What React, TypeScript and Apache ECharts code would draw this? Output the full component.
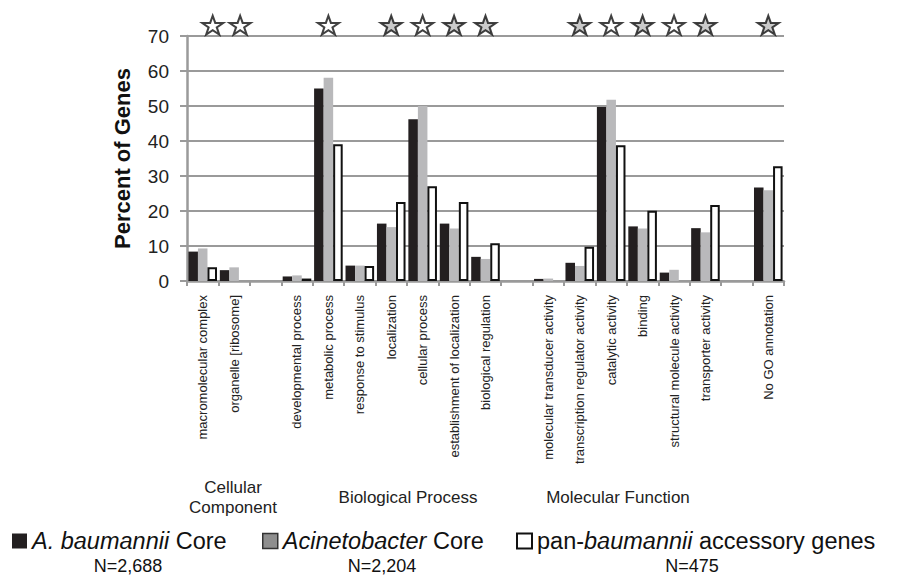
import React, { useEffect, useRef } from "react";
import * as echarts from "echarts";

const categories = [
  "macromolecular complex",
  "organelle [ribosome]",
  " ",
  "developmental process",
  "metabolic process",
  "response to stimulus",
  "localization",
  "cellular process",
  "establishment of localization",
  "biological regulation",
  "  ",
  "molecular transducer activity",
  "transcription regulator activity",
  "catalytic activity",
  "binding",
  "structural molecule activity",
  "transporter activity",
  "   ",
  "No GO annotation",
];

const seriesNames = ["A. baumannii Core", "Acinetobacter Core", "pan-baumannii accessory genes"];
const nLabels = ["N=2,688", "N=2,204", "N=475"];

const abCore = [8.4, 3.1, null, 1.3, 55.0, 4.4, 16.4, 46.2, 16.4, 6.9, null, 0.6, 5.2, 49.7, 15.6, 2.4, 15.1, null, 26.7];
const acCore = [9.3, 3.9, null, 1.6, 58.1, 4.4, 15.4, 50.0, 15.0, 6.3, null, 0.7, 4.3, 51.8, 15.0, 3.2, 13.9, null, 25.9];
const panAcc = [3.9, null, null, 0.7, 39.1, 4.3, 22.6, 27.1, 22.6, 10.8, null, null, 9.8, 38.8, 20.1, null, 21.7, null, 32.8];

const starCats = [0, 1, 4, 6, 7, 8, 9, 12, 13, 14, 15, 16, 18];
const starShaded = [false, false, false, true, false, true, true, true, false, true, false, true, true];

const groupLabels = ["Cellular\nComponent", "Biological Process", "Molecular Function"];

const FONT = "'Liberation Sans', Arial, Helvetica, sans-serif";
const STAR =
  "path://M50,0 L61.8,35.1 L98.9,35.1 L68.9,56.7 L80.3,91.9 L50,70.2 L19.7,91.9 L31.1,56.7 L1.1,35.1 L38.2,35.1 Z";

export default function App() {
  const ref = useRef<HTMLDivElement>(null);

  useEffect(() => {
    document.body.style.margin = "0";
    if (!ref.current) return;
    const chart = echarts.init(ref.current, undefined, { renderer: "svg" });

    const legendFmt = (name: string) => {
      if (name === seriesNames[0]) return "{i|A. baumannii} Core";
      if (name === seriesNames[1]) return "{i|Acinetobacter} Core";
      return "pan-{i|baumannii} accessory genes";
    };
    const legendText = {
      fontSize: 23.5,
      fontFamily: FONT,
      color: "#111",
      lineHeight: 20,
      rich: {
        i: { fontSize: 23.5, fontFamily: FONT, fontStyle: "italic", color: "#111", lineHeight: 20 },
      },
    };
    const legendPos = [12, 262, 516];
    const legendStyles = [
      { color: "#231f20", borderWidth: 0 },
      { color: "#8e8e8e", borderColor: "#333", borderWidth: 1.5 },
      { color: "#ffffff", borderColor: "#111", borderWidth: 2 },
    ];
    const nCenters = [128, 382, 692];
    const groupCenters = [233, 408, 618];
    const groupTops = [477, 487, 487];

    const starData = starCats.map((c, i) => ({
      value: [c, 73.1],
      symbolOffset: i === 0 ? [10, 0] : i === 1 ? [6, 0] : [0, 0],
      itemStyle: { color: starShaded[i] ? "#bdbdbd" : "#ffffff" },
    }));

    chart.setOption({
      animation: false,
      backgroundColor: "#ffffff",
      grid: { left: 187, right: 125, top: 36, bottom: 294, containLabel: false },
      legend: seriesNames.map((n, i) => ({
        data: [n],
        left: legendPos[i],
        top: 529,
        padding: 0,
        icon: "rect",
        itemWidth: 15,
        itemHeight: 15,
        selectedMode: false,
        itemStyle: legendStyles[i],
        formatter: legendFmt,
        textStyle: legendText,
      })),
      xAxis: {
        type: "category",
        data: categories,
        axisLine: { show: true, lineStyle: { color: "#9a9a9a", width: 2.5 } },
        axisTick: { show: true, length: 5, lineStyle: { color: "#9a9a9a", width: 2 } },
        axisLabel: {
          rotate: 90,
          interval: 0,
          margin: 14,
          fontSize: 13,
          fontFamily: FONT,
          color: "#222",
        },
        splitLine: { show: false },
      },
      yAxis: {
        type: "value",
        min: 0,
        max: 70,
        interval: 10,
        name: "Percent of Genes",
        nameLocation: "middle",
        nameGap: 54,
        nameTextStyle: { fontSize: 22, fontWeight: "bold", fontFamily: FONT, color: "#111" },
        axisLine: { show: true, lineStyle: { color: "#9a9a9a", width: 2.5 } },
        axisTick: { show: true, length: 7, lineStyle: { color: "#9a9a9a", width: 2 } },
        axisLabel: { fontSize: 19, fontFamily: FONT, color: "#222", margin: 18 },
        splitLine: { show: true, lineStyle: { color: "#9a9a9a", width: 2 } },
      },
      series: [
        {
          name: seriesNames[0],
          type: "bar",
          data: abCore,
          barGap: "0%",
          barCategoryGap: "9%",
          itemStyle: { color: "#231f20" },
        },
        {
          name: seriesNames[1],
          type: "bar",
          data: acCore,
          barGap: "0%",
          barCategoryGap: "9%",
          itemStyle: { color: "#b9b9bb" },
        },
        {
          name: seriesNames[2],
          type: "bar",
          data: panAcc,
          barGap: "0%",
          barCategoryGap: "9%",
          itemStyle: { color: "#ffffff", borderColor: "#111", borderWidth: 2 },
        },
        {
          name: "stars",
          type: "scatter",
          clip: false,
          symbol: STAR,
          symbolSize: [21, 20],
          symbolKeepAspect: true,
          data: starData,
          itemStyle: { borderColor: "#111", borderWidth: 2 },
          z: 5,
        },
      ],
      graphic: [
        ...groupLabels.map((t, i) => ({
          type: "text",
          x: groupCenters[i],
          y: groupTops[i],
          style: {
            text: t,
            fontSize: 17,
            fontFamily: FONT,
            fill: "#222",
            align: "center",
            lineHeight: 20,
          },
        })),
        ...nLabels.map((t, i) => ({
          type: "text",
          x: nCenters[i],
          y: 557,
          style: {
            text: t,
            fontSize: 18,
            fontFamily: FONT,
            fill: "#111",
            align: "center",
          },
        })),
      ],
    });

    return () => chart.dispose();
  }, []);

  return <div ref={ref} style={{ width: 909, height: 575 }} />;
}
